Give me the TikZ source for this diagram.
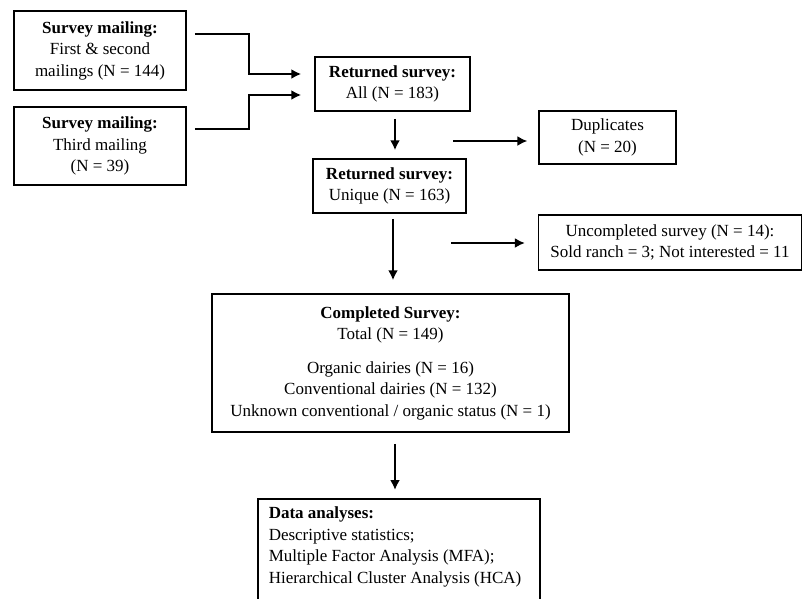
\documentclass[tikz,border=0pt]{standalone}
\usepackage{fontspec}
\setmainfont{Liberation Serif}
\usetikzlibrary{arrows.meta}
\newcommand\boxfont{\fontsize{17}{21.5}\selectfont}
\begin{document}
\begin{tikzpicture}[x=1pt,y=-1pt,>={Latex[length=10pt,width=10pt]}]
\tikzset{box/.style={draw,line width=1.5pt,align=center,inner sep=0pt,font=\boxfont},
link/.style={->,line width=2pt},side/.style={->,line width=1.5pt}}
\useasboundingbox (0,0) rectangle (803,598);
\node[box,minimum width=172,minimum height=79] at (100,50.5) (mailA) {\textbf{Survey mailing:}\\First \& second\\mailings (N = 144)};
\node[box,minimum width=172,minimum height=78] at (100,146) (mailB) {\textbf{Survey mailing:}\\Third mailing\\(N = 39)};
\node[box,minimum width=155,minimum height=54] at (392.5,84) (all) {\textbf{Returned survey:}\\All (N = 183)};
\node[box,minimum width=153,minimum height=54] at (389.5,186) (uniq) {\textbf{Returned survey:}\\Unique (N = 163)};
\node[box,minimum width=137,minimum height=53] at (607.5,137.5) (dup) {Duplicates\\(N = 20)};
\node[box,minimum width=263,minimum height=55] at (670,242.5) (uncomp) {Uncompleted survey (N = 14):\\Sold ranch = 3; Not interested = 11};
\node[box,minimum width=357,minimum height=138] at (390.5,363) (compl) {\textbf{Completed Survey:}\\Total (N = 149)\\[12pt]Organic dairies (N = 16)\\Conventional dairies (N = 132)\\Unknown conventional / organic status (N = 1)};
\node[box,anchor=north west,align=flush left,text width=260pt,inner xsep=11pt,inner ysep=8pt,text depth=80pt] at (257,498) (data) {\textbf{Data analyses:}\\Descriptive statistics;\\Multiple Factor Analysis (MFA);\\Hierarchical Cluster Analysis (HCA)};
% mailings into the returned surveys
\draw[link,shorten <=8pt,shorten >=13pt] ([yshift=16.5pt]mailA.east) -- ++(62,0) |- ([yshift=10pt]all.west);
\draw[link,shorten <=8pt,shorten >=13pt] ([yshift=17pt]mailB.east) -- ++(62,0) |- ([yshift=-11pt]all.west);
\draw[link,shorten <=7pt,shorten >=8pt] ([xshift=2.5pt]all.south) -- ([xshift=2.5pt]all.south |- uniq.north);
\draw[link,shorten <=5pt,shorten >=13pt] ([xshift=3.5pt]uniq.south) -- ([xshift=3.5pt]uniq.south |- compl.north);
\draw[link,shorten <=11pt,shorten >=8pt] ([xshift=4.5pt]compl.south) -- ([xshift=4.5pt]compl.south |- data.north);
% side exits
\coordinate (dupS) at (453,141);
\coordinate (uncS) at (451,243);
\draw[side,shorten >=11pt] (dupS) -- (dupS -| dup.west);
\draw[side,shorten >=13pt] (uncS) -- (uncS -| uncomp.west);
\end{tikzpicture}
\end{document}
